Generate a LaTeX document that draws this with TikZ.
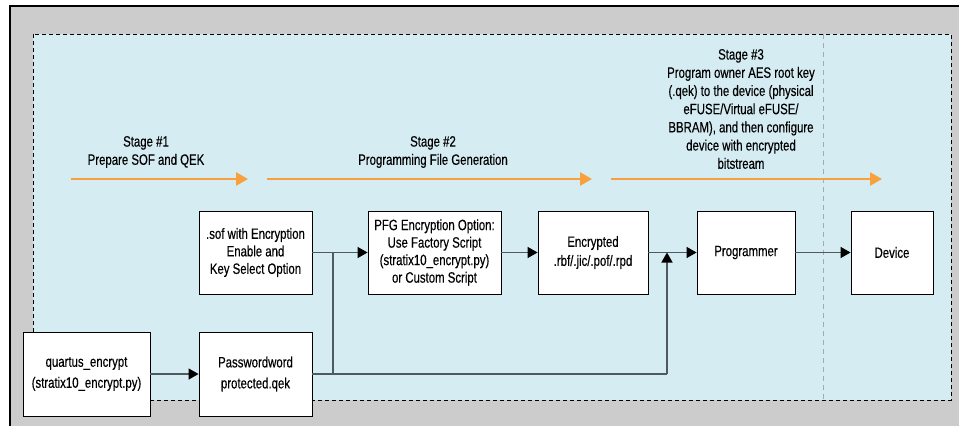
\documentclass[tikz,border=0pt]{standalone}
\usepackage{fontspec}
\setmainfont{Liberation Sans}[FakeStretch=0.76,FakeBold=0.35]
\usetikzlibrary{arrows.meta}
\definecolor{framegray}{RGB}{204,204,204}
\definecolor{paleblue}{RGB}{213,236,243}
\definecolor{stageorange}{RGB}{247,160,60}
\definecolor{linkgray}{RGB}{78,90,96}
\definecolor{sepgray}{RGB}{165,170,172}
\begin{document}
\begin{tikzpicture}[x=1pt,y=-1pt,
  font=\fontsize{15}{17.5}\selectfont,
  box/.style={draw=black, line width=0.9pt, fill=white, align=center, inner sep=0pt,
              minimum height=83pt},
  link/.style={draw=linkgray, line width=1.4pt},
  tip/.style={-{Triangle[length=10pt,width=11pt,color=black]}},
  stagearrow/.style={draw=stageorange, line width=2.6pt,
                     -{Triangle[length=12pt,width=13pt,color=stageorange]}},
  stagelabel/.style={align=center, inner sep=0pt, font=\fontsize{15}{18.2}\selectfont}]
  \useasboundingbox (0,0) rectangle (959,426);
  % frame and stage area
  \fill[white] (0,0) rectangle (959,426);
  \fill[framegray] (10,6) rectangle (959,426);
  \draw[black, line width=1.2pt] (10,426) -- (10,6) -- (959,6);
  \draw[black, line width=0.9pt, dash pattern=on 4pt off 3pt, fill=paleblue]
    (33,34) rectangle (951,400);
  \draw[sepgray, line width=0.9pt, dash pattern=on 5pt off 4pt] (823,34) -- (823,400);

  % stage headings and arrows
  \node[stagelabel] (s1) at (146,152) {Stage \#1\\Prepare SOF and QEK};
  \node[stagelabel] (s2) at (433,152) {Stage \#2\\Programming File Generation};
  \node[stagelabel] (s3) at (741,109) {Stage \#3\\Program owner AES root key\\(.qek) to the device (physical\\eFUSE/Virtual eFUSE/\\BBRAM), and then configure\\device with encrypted\\bitstream};
  \coordinate (a1s) at (71,179);  \coordinate (a1e) at (248,179);
  \coordinate (a2s) at (267,179); \coordinate (a2e) at (592,179);
  \coordinate (a3s) at (611,179); \coordinate (a3e) at (882,179);
  \draw[stagearrow] (a1s) -- (a1e);
  \draw[stagearrow] (a2s) -- (a2e);
  \draw[stagearrow] (a3s) -- (a3e);

  % flow boxes
  \node[box, minimum width=113pt] (sof)  at (255.5,252.5) {.sof with Encryption\\Enable and\\Key Select Option};
  \node[box, minimum width=133pt] (pfg)  at (434.5,252.5) {PFG Encryption Option:\\Use Factory Script\\(stratix10\_encrypt.py)\\or Custom Script};
  \node[box, minimum width=110pt, font=\fontsize{15}{19}\selectfont] (enc) at (593,252.5) {Encrypted\\.rbf/.jic/.pof/.rpd};
  \node[box, minimum width=98pt] (prog) at (746,252.5) {Programmer};
  \node[box, minimum width=82pt] (dev)  at (892,252.5) {Device};
  \node[box, minimum width=127pt, minimum height=84pt, font=\fontsize{15}{21}\selectfont] (qe) at (86.5,374) {quartus\_encrypt\\(stratix10\_encrypt.py)};
  \node[box, minimum width=113pt, minimum height=84pt, font=\fontsize{15}{21}\selectfont] (pwd) at (255.5,374) {Passwordword\\protected.qek};

  % connectors
  \coordinate (jtop) at (333,252.5);
  \coordinate (jbot) at (333,374);
  \coordinate (ktop) at (667,252.5);
  \coordinate (kbot) at (667,374);
  \draw[link, tip] (sof.east) -- (pfg.west);
  \draw[link, tip] (pfg.east) -- (enc.west);
  \draw[link, tip] (enc.east) -- (prog.west);
  \draw[link, tip] (prog.east) -- (dev.west);
  \draw[link, tip] (qe.east) -- (pwd.west);
  \draw[link] (pwd.east) -- (kbot);
  \draw[link] (jbot) -- (jtop);
  \draw[link, tip] (kbot) -- (ktop);
\end{tikzpicture}
\end{document}
